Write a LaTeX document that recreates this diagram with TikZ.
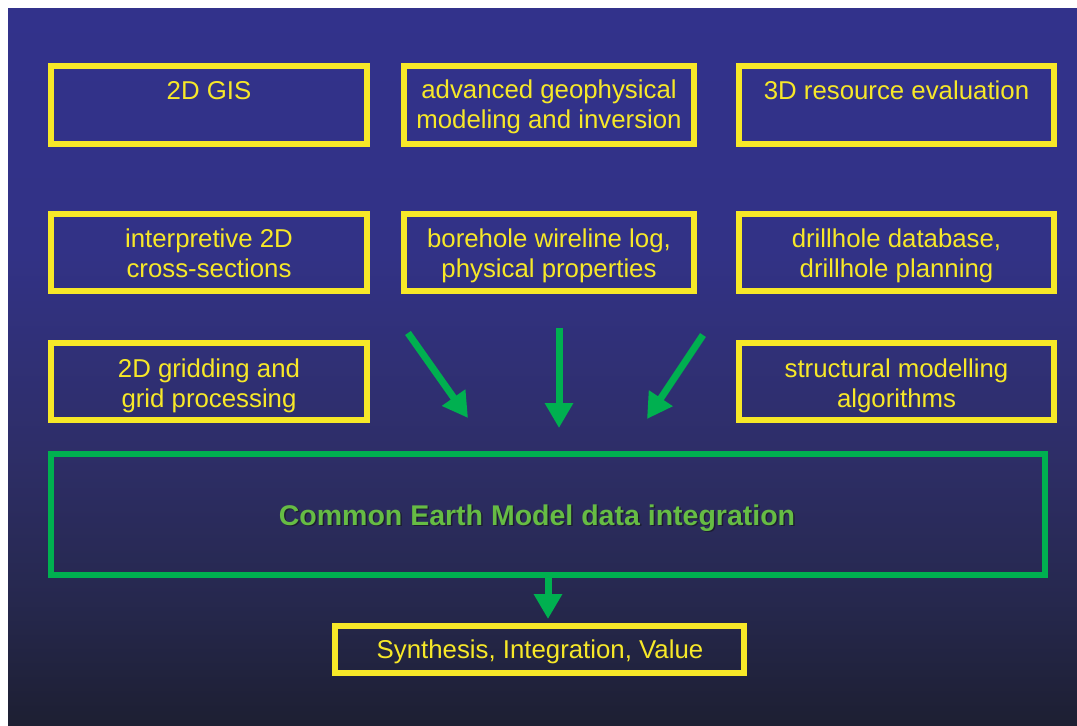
\documentclass[tikz,border=0pt]{standalone}
\usepackage{fontspec}
\setmainfont{Liberation Sans}
\usetikzlibrary{arrows.meta}
\definecolor{ctop}{RGB}{50,50,139}
\definecolor{cmida}{RGB}{50,50,134}
\definecolor{cmidb}{RGB}{46,46,104}
\definecolor{cmidc}{RGB}{38,40,78}
\definecolor{cbot}{RGB}{29,31,50}
\definecolor{boxyellow}{RGB}{247,232,40}
\definecolor{arrgreen}{RGB}{0,176,80}
\definecolor{titlegreen}{RGB}{102,188,68}
\definecolor{shadowc}{RGB}{25,25,40}
\pgfdeclareverticalshading{bgshade}{100bp}{color(0bp)=(cbot); color(25bp)=(cbot); color(33.8bp)=(cmidc); color(44.2bp)=(cmidb); color(58.1bp)=(cmida); color(75bp)=(ctop); color(100bp)=(ctop)}
\tikzset{
  ybox/.style={draw=boxyellow, line width=6pt, rectangle, inner sep=0pt, outer sep=0pt},
  gbox/.style={draw=arrgreen, line width=6pt, rectangle, inner sep=0pt, outer sep=0pt},
  txt/.style={text=boxyellow, inner sep=0pt, align=center, font=\fontsize{25.8}{30.5}\selectfont},
  bigarrow/.style={draw=arrgreen, line width=7pt, -{Triangle[length=25pt,width=27pt]}},
}
\begin{document}
\begin{tikzpicture}[x=1pt,y=-1pt]
\useasboundingbox (0,0) rectangle (1077,726);
\fill[white] (0,0) rectangle (1077,726);
\shade[shading=bgshade] (8,8) rectangle (1077,726);
% row 1
\node[ybox, minimum width=316pt, minimum height=78pt] (b1) at (209,105) {};
\node[ybox, minimum width=290pt, minimum height=78pt] (b2) at (549,105) {};
\node[ybox, minimum width=315pt, minimum height=78pt] (b3) at (896.5,105) {};
% row 2
\node[ybox, minimum width=316pt, minimum height=77pt] (b4) at (209,252.5) {};
\node[ybox, minimum width=290pt, minimum height=77pt] (b5) at (549,252.5) {};
\node[ybox, minimum width=315pt, minimum height=77pt] (b6) at (896.5,252.5) {};
% row 3
\node[ybox, minimum width=316pt, minimum height=77pt] (b7) at (209,381.5) {};
\node[ybox, minimum width=315pt, minimum height=77pt] (b8) at (896.5,381.5) {};
% green box
\node[gbox, minimum width=994pt, minimum height=121pt] (cem) at (548,514.5) {};
% bottom box
\node[ybox, minimum width=409.5pt, minimum height=47pt] (syn) at (539.25,649.5) {};
% texts
\node[txt, anchor=base] (t1) at (209,99) {2D GIS};
\node[txt, anchor=north] (t2) at (549,76.65) {\strut advanced geophysical\\modeling and inversion};
\node[txt, anchor=base] (t3) at (896.5,99) {3D resource evaluation};
\node[txt, anchor=north] (t4) at (209,225.65) {\strut interpretive 2D\\cross-sections};
\node[txt, anchor=north] (t5) at (549,225.65) {\strut borehole wireline log,\\physical properties};
\node[txt, anchor=north] (t6) at (896.5,225.65) {\strut drillhole database,\\drillhole planning};
\node[txt, anchor=north] (t7) at (209,355.65) {\strut 2D gridding and\\grid processing};
\node[txt, anchor=north] (t8) at (896.5,355.65) {\strut structural modelling\\algorithms};
\node[txt, anchor=base] (t9) at (540,658) {Synthesis, Integration, Value};
\node[inner sep=0pt, anchor=base, text=shadowc, opacity=0.8, font=\fontsize{28.5}{32}\selectfont\bfseries] (titleshadow) at (538.5,526.5) {Common Earth Model data integration};
\node[inner sep=0pt, anchor=base, text=titlegreen, font=\fontsize{28.5}{32}\selectfont\bfseries] (title) at (537,525) {Common Earth Model data integration};
% arrows
\coordinate (a1s) at (408,333);
\coordinate (a1e) at (468,418);
\coordinate (a2s) at (559,328);
\coordinate (a2e) at (559,428);
\coordinate (a3s) at (703,335);
\coordinate (a3e) at (647,419);
\draw[bigarrow] (a1s) -- (a1e);
\draw[bigarrow] (a2s) -- (a2e);
\draw[bigarrow] (a3s) -- (a3e);
\draw[bigarrow, shorten >=7pt] (cem.south) -- (cem.south |- syn.north);
\end{tikzpicture}
\end{document}
